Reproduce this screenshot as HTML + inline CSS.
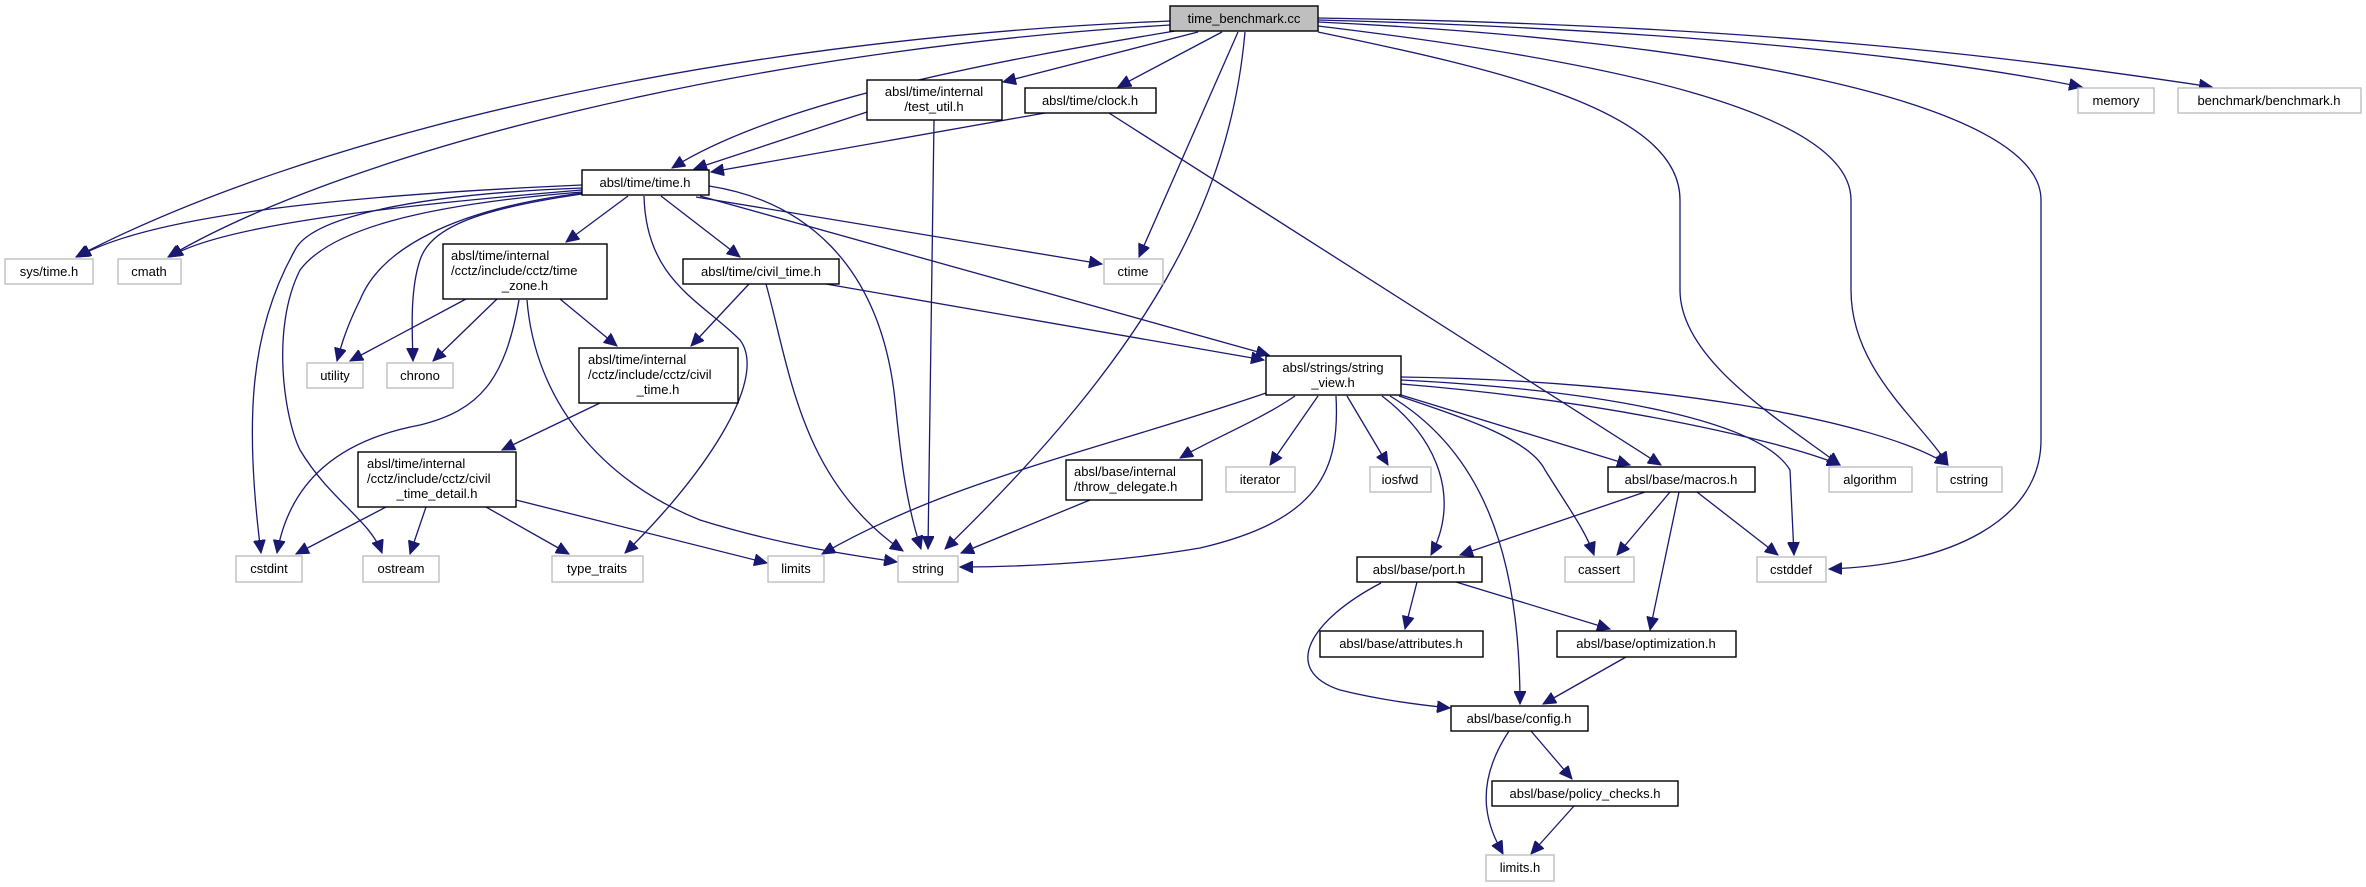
<!DOCTYPE html>
<html><head><meta charset="utf-8"><style>
html,body{margin:0;padding:0;background:#fff;}
svg{display:block;}
text{font-family:"Liberation Sans",sans-serif;font-size:13px;fill:#000;}
.e{fill:none;stroke:#191970;stroke-width:1.3;marker-end:url(#a);}
.h{fill:#fff;stroke:#000;stroke-width:1.4;}
.s{fill:#fff;stroke:#bfbfbf;stroke-width:1.4;}
.r{fill:#bfbfbf;stroke:#000;stroke-width:1.4;}
</style></head><body>
<svg width="2366" height="887" viewBox="0 0 2366 887" xmlns="http://www.w3.org/2000/svg">
<defs><marker id="a" markerUnits="userSpaceOnUse" markerWidth="14" markerHeight="12" refX="13" refY="6" orient="auto"><path d="M0,0 L13,6 L0,12 z" fill="#191970" stroke="#191970"/></marker></defs>

<!-- edges from time_benchmark.cc -->
<path class="e" d="M1170,21 C700,40 300,140 76,257"/>
<path class="e" d="M1170,25 C750,50 350,150 168,257"/>
<path class="e" d="M1175,31 C1000,60 780,100 672,168"/>
<path class="e" d="M1198,32 L1003,82"/>
<path class="e" d="M1222,32 L1118,87"/>
<path class="e" d="M1238,32 L1139,257"/>
<path class="e" d="M1245,32 C1230,200 1150,350 945,549"/>
<path class="e" d="M1318,32 C1500,70 1680,110 1680,200 L1680,290 C1680,360 1780,420 1840,465"/>
<path class="e" d="M1318,26 C1600,60 1851,110 1851,200 L1851,290 C1851,370 1920,420 1948,465"/>
<path class="e" d="M1318,22 C1700,40 2041,100 2041,200 L2041,440 C2041,520 1950,565 1829,569"/>
<path class="e" d="M1318,20 C1700,30 1950,60 2082,87"/>
<path class="e" d="M1318,18 C1750,25 2000,55 2212,87"/>

<!-- test_util / clock -->
<path class="e" d="M867,112 L694,169"/>
<path class="e" d="M934,120 L928,549"/>
<path class="e" d="M1045,113 L711,172"/>
<path class="e" d="M1109,113 L1661,465"/>

<!-- time.h -->
<path class="e" d="M582,185 C350,195 150,215 78,257"/>
<path class="e" d="M582,190 C400,205 220,225 170,257"/>
<path class="e" d="M582,188 C400,195 310,220 295,250 C250,330 244,420 261,553"/>
<path class="e" d="M582,192 C420,205 330,230 300,270 C270,330 285,420 300,450 C330,500 370,520 382,553"/>
<path class="e" d="M582,193 C450,210 380,250 360,300 C345,330 340,350 337,361"/>
<path class="e" d="M582,194 C470,210 430,230 420,260 C410,290 412,330 413,361"/>
<path class="e" d="M628,196 L566,242"/>
<path class="e" d="M661,196 L740,257"/>
<path class="e" d="M644,196 C646,280 700,300 740,340 C770,380 700,480 625,553"/>
<path class="e" d="M696,197 L1102,264"/>
<path class="e" d="M700,196 L1269,355"/>
<path class="e" d="M709,186 C800,200 880,260 895,400 C900,450 905,500 921,549"/>

<!-- time_zone.h -->
<path class="e" d="M466,299 L350,361"/>
<path class="e" d="M497,299 L433,361"/>
<path class="e" d="M560,299 L617,346"/>
<path class="e" d="M519,300 C505,380 480,410 420,425 C340,440 290,480 277,553"/>
<path class="e" d="M527,300 C535,400 600,480 700,520 C780,545 850,555 897,562"/>

<!-- civil_time.h -->
<path class="e" d="M749,284 L691,346"/>
<path class="e" d="M826,284 L1264,360"/>
<path class="e" d="M766,284 C790,370 800,480 903,551"/>

<!-- cctz civil_time / detail -->
<path class="e" d="M600,403 L502,450"/>
<path class="e" d="M386,507 L296,554"/>
<path class="e" d="M426,507 L410,554"/>
<path class="e" d="M486,507 L569,554"/>
<path class="e" d="M516,500 L767,563"/>

<!-- string_view -->
<path class="e" d="M1266,393 C1100,450 950,480 822,554"/>
<path class="e" d="M1295,396 C1260,420 1210,440 1180,458"/>
<path class="e" d="M1318,396 L1270,465"/>
<path class="e" d="M1336,396 C1340,470 1320,520 1200,548 C1100,565 1000,567 960,567"/>
<path class="e" d="M1347,396 L1388,465"/>
<path class="e" d="M1382,396 C1440,440 1460,500 1431,555"/>
<path class="e" d="M1390,396 C1480,450 1520,550 1520,704"/>
<path class="e" d="M1399,396 C1470,420 1530,440 1545,470 C1570,510 1585,530 1594,555"/>
<path class="e" d="M1401,395 L1630,465"/>
<path class="e" d="M1401,380 C1600,390 1760,420 1790,470 L1794,555"/>
<path class="e" d="M1401,384 C1600,400 1780,440 1840,465"/>
<path class="e" d="M1401,377 C1650,380 1880,420 1948,465"/>

<!-- throw_delegate -->
<path class="e" d="M1090,500 L961,553"/>

<!-- macros -->
<path class="e" d="M1645,492 L1460,555"/>
<path class="e" d="M1670,492 L1617,555"/>
<path class="e" d="M1679,492 L1650,630"/>
<path class="e" d="M1697,492 L1778,555"/>

<!-- port -->
<path class="e" d="M1417,582 L1405,629"/>
<path class="e" d="M1456,582 L1610,629"/>
<path class="e" d="M1381,583 C1310,620 1280,670 1340,690 C1380,700 1420,705 1450,708"/>
<path class="e" d="M1626,657 L1543,704"/>
<path class="e" d="M1531,731 L1572,779"/>
<path class="e" d="M1509,731 C1470,790 1490,830 1503,854"/>
<path class="e" d="M1574,806 L1531,854"/>

<!-- nodes -->
<rect class="r" x="1170" y="6" width="148" height="25"/><text x="1244" y="23" text-anchor="middle">time_benchmark.cc</text>
<rect class="h" x="867" y="80" width="135" height="40"/><text x="934" y="96" text-anchor="middle">absl/time/internal</text><text x="934" y="111" text-anchor="middle">/test_util.h</text>
<rect class="h" x="1025" y="88" width="131" height="25"/><text x="1090" y="105" text-anchor="middle">absl/time/clock.h</text>
<rect class="s" x="2078" y="88" width="76" height="25"/><text x="2116" y="105" text-anchor="middle">memory</text>
<rect class="s" x="2178" y="88" width="183" height="25"/><text x="2269" y="105" text-anchor="middle">benchmark/benchmark.h</text>
<rect class="h" x="582" y="170" width="127" height="25"/><text x="645" y="187" text-anchor="middle">absl/time/time.h</text>
<rect class="s" x="5" y="259" width="88" height="25"/><text x="49" y="276" text-anchor="middle">sys/time.h</text>
<rect class="s" x="118" y="259" width="63" height="25"/><text x="149" y="276" text-anchor="middle">cmath</text>
<rect class="h" x="443" y="244" width="164" height="55"/><text x="451" y="260">absl/time/internal</text><text x="451" y="275">/cctz/include/cctz/time</text><text x="525" y="290" text-anchor="middle">_zone.h</text>
<rect class="h" x="683" y="259" width="156" height="25"/><text x="761" y="276" text-anchor="middle">absl/time/civil_time.h</text>
<rect class="s" x="1104" y="259" width="59" height="25"/><text x="1133" y="276" text-anchor="middle">ctime</text>
<rect class="h" x="1266" y="356" width="135" height="39"/><text x="1333" y="372" text-anchor="middle">absl/strings/string</text><text x="1333" y="387" text-anchor="middle">_view.h</text>
<rect class="s" x="307" y="363" width="56" height="25"/><text x="335" y="380" text-anchor="middle">utility</text>
<rect class="s" x="387" y="363" width="66" height="25"/><text x="420" y="380" text-anchor="middle">chrono</text>
<rect class="h" x="579" y="348" width="159" height="55"/><text x="588" y="364">absl/time/internal</text><text x="588" y="379">/cctz/include/cctz/civil</text><text x="658" y="394" text-anchor="middle">_time.h</text>
<rect class="h" x="358" y="452" width="158" height="55"/><text x="367" y="468">absl/time/internal</text><text x="367" y="483">/cctz/include/cctz/civil</text><text x="437" y="498" text-anchor="middle">_time_detail.h</text>
<rect class="h" x="1066" y="460" width="136" height="40"/><text x="1074" y="476">absl/base/internal</text><text x="1074" y="491">/throw_delegate.h</text>
<rect class="s" x="1226" y="467" width="69" height="25"/><text x="1260" y="484" text-anchor="middle">iterator</text>
<rect class="s" x="1370" y="467" width="61" height="25"/><text x="1400" y="484" text-anchor="middle">iosfwd</text>
<rect class="h" x="1608" y="467" width="147" height="25"/><text x="1681" y="484" text-anchor="middle">absl/base/macros.h</text>
<rect class="s" x="1829" y="467" width="83" height="25"/><text x="1870" y="484" text-anchor="middle">algorithm</text>
<rect class="s" x="1937" y="467" width="65" height="25"/><text x="1969" y="484" text-anchor="middle">cstring</text>
<rect class="s" x="236" y="556" width="66" height="26"/><text x="269" y="573" text-anchor="middle">cstdint</text>
<rect class="s" x="363" y="556" width="76" height="26"/><text x="401" y="573" text-anchor="middle">ostream</text>
<rect class="s" x="552" y="556" width="91" height="26"/><text x="597" y="573" text-anchor="middle">type_traits</text>
<rect class="s" x="768" y="556" width="56" height="26"/><text x="796" y="573" text-anchor="middle">limits</text>
<rect class="s" x="898" y="556" width="60" height="26"/><text x="928" y="573" text-anchor="middle">string</text>
<rect class="h" x="1357" y="557" width="125" height="25"/><text x="1419" y="574" text-anchor="middle">absl/base/port.h</text>
<rect class="s" x="1565" y="557" width="69" height="25"/><text x="1599" y="574" text-anchor="middle">cassert</text>
<rect class="s" x="1757" y="557" width="69" height="25"/><text x="1791" y="574" text-anchor="middle">cstddef</text>
<rect class="h" x="1320" y="631" width="163" height="26"/><text x="1401" y="648" text-anchor="middle">absl/base/attributes.h</text>
<rect class="h" x="1557" y="631" width="179" height="26"/><text x="1646" y="648" text-anchor="middle">absl/base/optimization.h</text>
<rect class="h" x="1451" y="706" width="137" height="25"/><text x="1519" y="723" text-anchor="middle">absl/base/config.h</text>
<rect class="h" x="1492" y="781" width="186" height="25"/><text x="1585" y="798" text-anchor="middle">absl/base/policy_checks.h</text>
<rect class="s" x="1486" y="855" width="68" height="26"/><text x="1520" y="872" text-anchor="middle">limits.h</text>
</svg>
</body></html>
